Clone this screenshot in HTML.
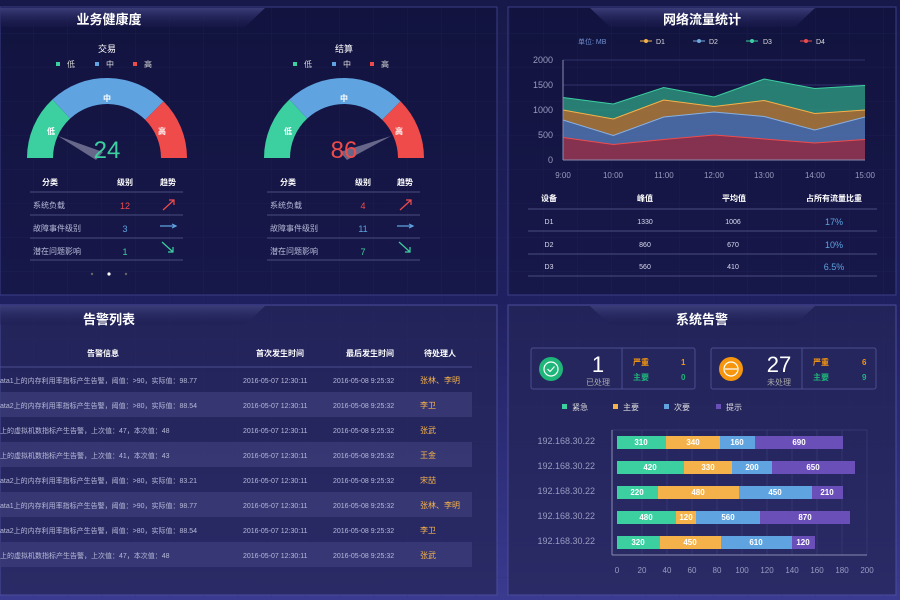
<!DOCTYPE html>
<html><head><meta charset="utf-8"><style>
html,body{margin:0;padding:0;width:900px;height:600px;overflow:hidden;background:#151742}
svg{display:block}
text{font-family:"Liberation Sans","Noto Sans CJK SC",sans-serif}
</style></head><body>
<svg width="900" height="600" viewBox="0 0 900 600" xmlns="http://www.w3.org/2000/svg">
<defs>
<linearGradient id="bg" x1="0" y1="0" x2="0" y2="1"><stop offset="0" stop-color="#17194a"/><stop offset="0.5" stop-color="#1f2060"/><stop offset="1" stop-color="#3a3a90"/></linearGradient>
<linearGradient id="p1" x1="0" y1="0" x2="0" y2="1"><stop offset="0" stop-color="#12133f"/><stop offset="1" stop-color="#17184a"/></linearGradient>
<linearGradient id="p2" x1="0" y1="0" x2="0" y2="1"><stop offset="0" stop-color="#222359"/><stop offset="1" stop-color="#2a2a66"/></linearGradient>
<linearGradient id="tt" x1="0" y1="0" x2="0" y2="1"><stop offset="0" stop-color="#3a3c78"/><stop offset="1" stop-color="#1c1d52" stop-opacity="0.3"/></linearGradient>
<pattern id="grid" width="34" height="34" patternUnits="userSpaceOnUse"><path d="M34 0V34H0" fill="none" stroke="#2a2d68" stroke-width="0.5"/></pattern>
</defs>
<rect width="900" height="600" fill="url(#bg)"/>
<!-- panels -->
<rect x="0" y="7" width="497" height="288" fill="url(#p1)" stroke="#3b3e88"/>
<rect x="508" y="7" width="388" height="288" fill="url(#p1)" stroke="#3b3e88"/>
<rect x="0" y="305" width="497" height="290" fill="url(#p2)" stroke="#4a4c9a"/>
<rect x="508" y="305" width="388" height="290" fill="url(#p2)" stroke="#4a4c9a"/>
<rect x="0" y="7" width="900" height="590" fill="url(#grid)" opacity="0.6"/>
<!-- title tabs -->
<polygon points="0,8 265,8 245,27 0,27" fill="url(#tt)"/>
<polygon points="590,8 815,8 795,27 610,27" fill="url(#tt)"/>
<polygon points="0,306 265,306 245,325 0,325" fill="url(#tt)"/>
<polygon points="590,306 815,306 795,325 610,325" fill="url(#tt)"/>
<g fill="#fff" font-size="13" font-weight="bold" text-anchor="middle">
<text x="109" y="24">业务健康度</text><text x="702" y="24">网络流量统计</text>
<text x="109" y="324">告警列表</text><text x="702" y="324">系统告警</text>
</g>

<!-- gauges -->
<g font-size="9" fill="#fff" text-anchor="middle">
<text x="107" y="52">交易</text><text x="344" y="52">结算</text>
</g>
<g font-size="8" fill="#ddd">
<rect x="56" y="62" width="4" height="4" fill="#3ccfa0"/><text x="67" y="67">低</text>
<rect x="95" y="62" width="4" height="4" fill="#5fa3e0"/><text x="106" y="67">中</text>
<rect x="133" y="62" width="4" height="4" fill="#f04b4b"/><text x="144" y="67">高</text>
<rect x="293" y="62" width="4" height="4" fill="#3ccfa0"/><text x="304" y="67">低</text>
<rect x="332" y="62" width="4" height="4" fill="#5fa3e0"/><text x="343" y="67">中</text>
<rect x="370" y="62" width="4" height="4" fill="#f04b4b"/><text x="381" y="67">高</text>
</g>
<g id="g1">
<path d="M27 158 A80 80 0 0 1 52.4 99.5 L70.2 118.5 A54 54 0 0 0 53 158Z" fill="#3ccfa0"/>
<path d="M52.4 99.5 A80 80 0 0 1 163.6 101.4 L145.2 119.8 A54 54 0 0 0 70.2 118.5Z" fill="#5fa3e0"/>
<path d="M163.6 101.4 A80 80 0 0 1 187 158 L161 158 A54 54 0 0 0 145.2 119.8Z" fill="#f04b4b"/>
</g>
<use href="#g1" x="237"/>
<g font-size="8" fill="#fff" text-anchor="middle" font-weight="bold">
<text x="51" y="134">低</text><text x="107" y="101">中</text><text x="162" y="134">高</text>
<text x="288" y="134">低</text><text x="344" y="101">中</text><text x="399" y="134">高</text>
</g>
<polygon points="58,136 103,152 96,160" fill="#8a8aa8" opacity="0.7"/>
<polygon points="391,136 340,152 347,160" fill="#8a8aa8" opacity="0.7"/>
<text x="107" y="158" font-size="24" fill="#3ccfa0" text-anchor="middle">24</text>
<text x="344" y="158" font-size="24" fill="#f04b4b" text-anchor="middle">86</text>

<!-- gauge tables -->
<g font-size="8" fill="#fff" font-weight="bold" text-anchor="middle">
<text x="50" y="185">分类</text><text x="125" y="185">级别</text><text x="168" y="185">趋势</text>
<text x="288" y="185">分类</text><text x="363" y="185">级别</text><text x="405" y="185">趋势</text>
</g>
<g stroke="#4a4d80" stroke-width="1">
<line x1="30" y1="192" x2="183" y2="192"/><line x1="30" y1="215" x2="183" y2="215"/><line x1="30" y1="238" x2="183" y2="238"/><line x1="30" y1="260" x2="183" y2="260"/>
<line x1="267" y1="192" x2="420" y2="192"/><line x1="267" y1="215" x2="420" y2="215"/><line x1="267" y1="238" x2="420" y2="238"/><line x1="267" y1="260" x2="420" y2="260"/>
</g>
<g font-size="8" fill="#b8bbd8">
<text x="33" y="208">系统负载</text><text x="33" y="231">故障事件级别</text><text x="33" y="254">潜在问题影响</text>
<text x="270" y="208">系统负载</text><text x="270" y="231">故障事件级别</text><text x="270" y="254">潜在问题影响</text>
</g>
<g font-size="9" text-anchor="middle" font-family="Liberation Mono">
<text x="125" y="209" fill="#f04b4b">12</text><text x="125" y="232" fill="#5fa3e0">3</text><text x="125" y="255" fill="#3ccfa0">1</text>
<text x="363" y="209" fill="#f04b4b">4</text><text x="363" y="232" fill="#5fa3e0">11</text><text x="363" y="255" fill="#3ccfa0">7</text>
</g>
<g stroke-width="1.2" fill="none">
<path d="M163 210 L174 200 M169 200 L174 200 L174 205" stroke="#f04b4b"/>
<path d="M160 226 L176 226 M172 224 L176 226 L172 228" stroke="#5fa3e0"/>
<path d="M162 242 L173 252 M173 247 L173 252 L168 252" stroke="#3ccfa0"/>
<path d="M400 210 L411 200 M406 200 L411 200 L411 205" stroke="#f04b4b"/>
<path d="M397 226 L413 226 M409 224 L413 226 L409 228" stroke="#5fa3e0"/>
<path d="M399 242 L410 252 M410 247 L410 252 L405 252" stroke="#3ccfa0"/>
</g>
<circle cx="92" cy="274" r="1.2" fill="#666"/><circle cx="109" cy="274" r="1.6" fill="#fff"/><circle cx="126" cy="274" r="1.2" fill="#666"/>

<!-- network chart -->
<g font-size="7" fill="#ddd">
<text x="578" y="44" fill="#6f8fd0">单位: MB</text>
<line x1="640" y1="41" x2="652" y2="41" stroke="#f6b24a"/><circle cx="646" cy="41" r="2" fill="#f6b24a"/><text x="656" y="44">D1</text>
<line x1="693" y1="41" x2="705" y2="41" stroke="#6fa8dc"/><circle cx="699" cy="41" r="2" fill="#6fa8dc"/><text x="709" y="44">D2</text>
<line x1="746" y1="41" x2="758" y2="41" stroke="#3ccfa0"/><circle cx="752" cy="41" r="2" fill="#3ccfa0"/><text x="763" y="44">D3</text>
<line x1="800" y1="41" x2="812" y2="41" stroke="#f04b4b"/><circle cx="806" cy="41" r="2" fill="#f04b4b"/><text x="816" y="44">D4</text>
</g>
<g stroke="#3a3d78" stroke-width="0.8">
<line x1="563" y1="60" x2="865" y2="60"/><line x1="563" y1="85" x2="865" y2="85"/><line x1="563" y1="110" x2="865" y2="110"/><line x1="563" y1="135" x2="865" y2="135"/>
</g>
<g font-size="9" fill="#9a9cc0" text-anchor="end">
<text x="553" y="63">2000</text><text x="553" y="88">1500</text><text x="553" y="113">1000</text><text x="553" y="138">500</text><text x="553" y="163">0</text>
</g>
<polygon points="563,97.5 613.3,104 663.7,87.5 714,97 764.3,79 814.7,88.5 865,85.5 865,110 814.7,113.5 764.3,100.5 714,106.5 663.7,100 613.3,119 563,110" fill="#2a8a78" opacity="0.9"/>
<polygon points="563,110 613.3,119 663.7,100 714,106.5 764.3,100.5 814.7,113.5 865,110 865,117 814.7,130 764.3,116.5 714,112 663.7,117 613.3,135.5 563,120" fill="#a5743a" opacity="0.9"/>
<polygon points="563,120 613.3,135.5 663.7,117 714,112 764.3,116.5 814.7,130 865,117 865,139.5 814.7,143 764.3,139 714,135 663.7,139.5 613.3,144.5 563,137.5" fill="#4a6aa5" opacity="0.95"/>
<polygon points="563,137.5 613.3,144.5 663.7,139.5 714,135 764.3,139 814.7,143 865,139.5 865,160 563,160" fill="#8a3450" opacity="0.95"/>
<g fill="none" stroke-width="1">
<polyline points="563,97.5 613.3,104 663.7,87.5 714,97 764.3,79 814.7,88.5 865,85.5" stroke="#3ccfa0"/>
<polyline points="563,110 613.3,119 663.7,100 714,106.5 764.3,100.5 814.7,113.5 865,110" stroke="#f6b24a"/>
<polyline points="563,120 613.3,135.5 663.7,117 714,112 764.3,116.5 814.7,130 865,117" stroke="#8ab0e0"/>
<polyline points="563,137.5 613.3,144.5 663.7,139.5 714,135 764.3,139 814.7,143 865,139.5" stroke="#f04b4b"/>
</g>
<line x1="563" y1="160" x2="865" y2="160" stroke="#8a8cb0"/><line x1="563" y1="60" x2="563" y2="160" stroke="#8a8cb0"/>
<g font-size="8" fill="#9a9cc0" text-anchor="middle">
<text x="563" y="178">9:00</text><text x="613" y="178">10:00</text><text x="664" y="178">11:00</text><text x="714" y="178">12:00</text><text x="764" y="178">13:00</text><text x="815" y="178">14:00</text><text x="865" y="178">15:00</text>
</g>
<g font-size="8" fill="#fff" font-weight="bold" text-anchor="middle">
<text x="549" y="201">设备</text><text x="645" y="201">峰值</text><text x="734" y="201">平均值</text><text x="834" y="201">占所有流量比重</text>
</g>
<g stroke="#4a4d80"><line x1="528" y1="209" x2="877" y2="209"/><line x1="528" y1="231" x2="877" y2="231"/><line x1="528" y1="254" x2="877" y2="254"/><line x1="528" y1="276" x2="877" y2="276"/></g>
<g font-size="7" fill="#dcdcf0" text-anchor="middle" font-family="Liberation Mono">
<text x="549" y="224">D1</text><text x="645" y="224">1330</text><text x="733" y="224">1006</text>
<text x="549" y="247">D2</text><text x="645" y="247">860</text><text x="733" y="247">670</text>
<text x="549" y="269">D3</text><text x="645" y="269">560</text><text x="733" y="269">410</text>
</g>
<g font-size="9" fill="#5fa3e0" text-anchor="middle" font-family="Liberation Mono">
<text x="834" y="225">17%</text><text x="834" y="248">10%</text><text x="834" y="270">6.5%</text>
</g>

<!-- alert list -->
<g font-size="8" fill="#fff" font-weight="bold" text-anchor="middle">
<text x="103" y="356">告警信息</text><text x="280" y="356">首次发生时间</text><text x="370" y="356">最后发生时间</text><text x="440" y="356">待处理人</text>
</g>
<line x1="0" y1="367" x2="472" y2="367" stroke="#4a4d90"/>
<g fill="#3a3b78" opacity="0.8">
<rect x="0" y="392" width="472" height="25"/><rect x="0" y="442" width="472" height="25"/><rect x="0" y="492" width="472" height="25"/><rect x="0" y="542" width="472" height="25"/>
</g>
<g font-size="7" fill="#b8bad8">
<text x="0" y="383">ata1上的内存利用率指标产生告警，阈值：&gt;90，实际值：98.77</text>
<text x="0" y="408">ata2上的内存利用率指标产生告警，阈值：&gt;80，实际值：88.54</text>
<text x="0" y="433">上的虚拟机数指标产生告警，上次值：47，本次值：48</text>
<text x="0" y="458">上的虚拟机数指标产生告警，上次值：41，本次值：43</text>
<text x="0" y="483">ata2上的内存利用率指标产生告警，阈值：&gt;80，实际值：83.21</text>
<text x="0" y="508">ata1上的内存利用率指标产生告警，阈值：&gt;90，实际值：98.77</text>
<text x="0" y="533">ata2上的内存利用率指标产生告警，阈值：&gt;80，实际值：88.54</text>
<text x="0" y="558">上的虚拟机数指标产生告警，上次值：47，本次值：48</text>
</g>
<g font-size="7" fill="#b8bad8">
<g id="tm"><text x="243" y="383">2016-05-07 12:30:11</text><text x="333" y="383">2016-05-08 9:25:32</text></g>
<use href="#tm" y="25"/><use href="#tm" y="50"/><use href="#tm" y="75"/><use href="#tm" y="100"/><use href="#tm" y="125"/><use href="#tm" y="150"/><use href="#tm" y="175"/>
</g>
<g font-size="8" fill="#f6b24a">
<text x="420" y="383">张林、李明</text><text x="420" y="408">李卫</text><text x="420" y="433">张武</text><text x="420" y="458">王金</text>
<text x="420" y="483">宋喆</text><text x="420" y="508">张林、李明</text><text x="420" y="533">李卫</text><text x="420" y="558">张武</text>
</g>

<!-- system alerts -->
<rect x="531" y="348" width="164" height="41" fill="#25265e" stroke="#4a4d90" rx="2"/>
<rect x="711" y="348" width="165" height="41" fill="#25265e" stroke="#4a4d90" rx="2"/>
<line x1="622" y1="348" x2="622" y2="389" stroke="#4a4d90"/><line x1="802" y1="348" x2="802" y2="389" stroke="#4a4d90"/>
<circle cx="551" cy="369" r="12" fill="#1fb67a"/><circle cx="551" cy="369" r="7" fill="none" stroke="#fff" stroke-width="1.2"/><path d="M547.5 369 L550 371.5 L554.5 366.5" stroke="#fff" fill="none" stroke-width="1.2"/>
<circle cx="731" cy="369" r="12" fill="#f6960f"/><circle cx="731" cy="369" r="7" fill="none" stroke="#fff" stroke-width="1.2"/><line x1="725" y1="369" x2="737" y2="369" stroke="#fff" stroke-width="1.2"/>
<text x="598" y="372" font-size="22" fill="#fff" text-anchor="middle">1</text>
<text x="598" y="385" font-size="8" fill="#aaa" text-anchor="middle">已处理</text>
<text x="779" y="372" font-size="22" fill="#fff" text-anchor="middle">27</text>
<text x="779" y="385" font-size="8" fill="#aaa" text-anchor="middle">未处理</text>
<g font-size="8" font-weight="bold">
<text x="633" y="365" fill="#f6960f">严重</text><text x="633" y="380" fill="#1fb67a">主要</text>
<text x="681" y="365" fill="#f6960f">1</text><text x="681" y="380" fill="#1fb67a">0</text>
<text x="813" y="365" fill="#f6960f">严重</text><text x="813" y="380" fill="#1fb67a">主要</text>
<text x="862" y="365" fill="#f6960f">6</text><text x="862" y="380" fill="#1fb67a">9</text>
</g>
<g font-size="8" fill="#ddd">
<rect x="562" y="404" width="5" height="5" fill="#3ccfa0"/><text x="572" y="410">紧急</text>
<rect x="613" y="404" width="5" height="5" fill="#f6b24a"/><text x="623" y="410">主要</text>
<rect x="664" y="404" width="5" height="5" fill="#5fa3e0"/><text x="674" y="410">次要</text>
<rect x="716" y="404" width="5" height="5" fill="#6a4fb8"/><text x="726" y="410">提示</text>
</g>
<g stroke="#3a3d7a" stroke-width="0.7">
<line x1="642" y1="430" x2="642" y2="555"/><line x1="667" y1="430" x2="667" y2="555"/><line x1="692" y1="430" x2="692" y2="555"/><line x1="717" y1="430" x2="717" y2="555"/><line x1="742" y1="430" x2="742" y2="555"/><line x1="767" y1="430" x2="767" y2="555"/><line x1="792" y1="430" x2="792" y2="555"/><line x1="817" y1="430" x2="817" y2="555"/><line x1="842" y1="430" x2="842" y2="555"/><line x1="867" y1="430" x2="867" y2="555"/>
<line x1="612" y1="430" x2="867" y2="430"/>
</g>
<line x1="612" y1="430" x2="612" y2="555" stroke="#8a8cb0"/><line x1="612" y1="555" x2="867" y2="555" stroke="#8a8cb0"/>
<g font-size="9" fill="#9a9cc0" text-anchor="end">
<text x="595" y="444">192.168.30.22</text><text x="595" y="469">192.168.30.22</text><text x="595" y="494">192.168.30.22</text><text x="595" y="519">192.168.30.22</text><text x="595" y="544">192.168.30.22</text>
</g>
<g>
<rect x="617" y="436" width="49" height="13" fill="#3ccfa0"/><rect x="666" y="436" width="54" height="13" fill="#f6b24a"/><rect x="720" y="436" width="35" height="13" fill="#5fa3e0"/><rect x="755" y="436" width="88" height="13" fill="#6a4fb8"/>
<rect x="617" y="461" width="67" height="13" fill="#3ccfa0"/><rect x="684" y="461" width="48" height="13" fill="#f6b24a"/><rect x="732" y="461" width="40" height="13" fill="#5fa3e0"/><rect x="772" y="461" width="83" height="13" fill="#6a4fb8"/>
<rect x="617" y="486" width="41" height="13" fill="#3ccfa0"/><rect x="658" y="486" width="81" height="13" fill="#f6b24a"/><rect x="739" y="486" width="73" height="13" fill="#5fa3e0"/><rect x="812" y="486" width="31" height="13" fill="#6a4fb8"/>
<rect x="617" y="511" width="59" height="13" fill="#3ccfa0"/><rect x="676" y="511" width="20" height="13" fill="#f6b24a"/><rect x="696" y="511" width="64" height="13" fill="#5fa3e0"/><rect x="760" y="511" width="90" height="13" fill="#6a4fb8"/>
<rect x="617" y="536" width="43" height="13" fill="#3ccfa0"/><rect x="660" y="536" width="61" height="13" fill="#f6b24a"/><rect x="721" y="536" width="71" height="13" fill="#5fa3e0"/><rect x="792" y="536" width="23" height="13" fill="#6a4fb8"/>
</g>
<g font-size="8" fill="#fff" font-weight="bold" text-anchor="middle">
<text x="641" y="445">310</text><text x="693" y="445">340</text><text x="737" y="445">160</text><text x="799" y="445">690</text>
<text x="650" y="470">420</text><text x="708" y="470">330</text><text x="752" y="470">200</text><text x="813" y="470">650</text>
<text x="637" y="495">220</text><text x="698" y="495">480</text><text x="775" y="495">450</text><text x="827" y="495">210</text>
<text x="646" y="520">480</text><text x="686" y="520">120</text><text x="728" y="520">560</text><text x="805" y="520">870</text>
<text x="638" y="545">320</text><text x="690" y="545">450</text><text x="756" y="545">610</text><text x="803" y="545">120</text>
</g>
<g font-size="8" fill="#9a9cc0" text-anchor="middle">
<text x="617" y="573">0</text><text x="642" y="573">20</text><text x="667" y="573">40</text><text x="692" y="573">60</text><text x="717" y="573">80</text><text x="742" y="573">100</text><text x="767" y="573">120</text><text x="792" y="573">140</text><text x="817" y="573">160</text><text x="842" y="573">180</text><text x="867" y="573">200</text>
</g>
</svg>
</body></html>
